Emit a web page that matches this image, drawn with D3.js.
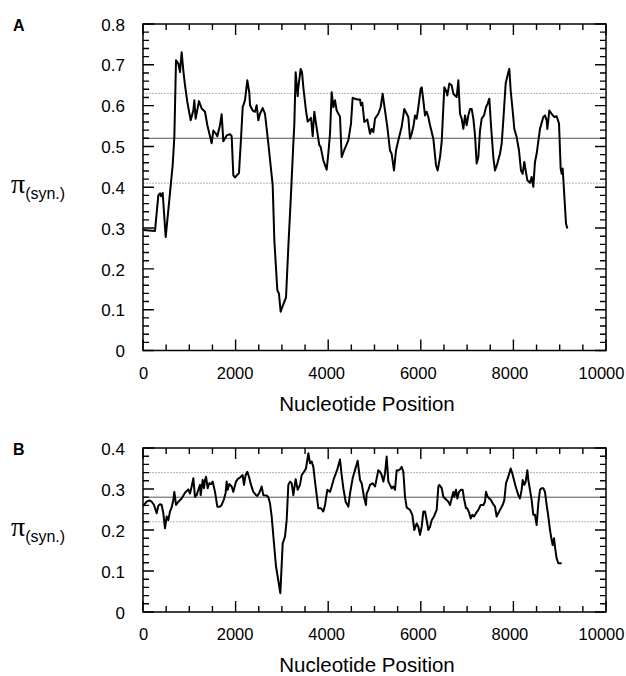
<!DOCTYPE html>
<html>
<head>
<meta charset="utf-8">
<script src="https://cdn.jsdelivr.net/npm/d3@7"></script>
<style>
  body { margin: 0; background: #fff; }
  svg text { font-family: "Liberation Sans", Arial, Helvetica, sans-serif; fill: #000; }
</style>
</head>
<body>
<svg></svg>
<script>
var width = 626,
    height = 676;

// Panel A: nucleotide position / pi(syn.)
var posA = [7,259,331,367,389,425,490,547,641,677,
  713,763,799,835,871,907,957,1030,1087,1109,
  1137,1209,1267,1339,1390,1483,1519,1577,1605,1663,
  1699,1735,1807,1879,1915,1951,1987,2073,2117,2153,
  2203,2253,2297,2311,2369,2419,2455,2491,2527,2585,
  2635,2707,2801,2837,2901,2937,2973,3017,3089,3139,
  3197,3247,3269,3297,3341,3355,3405,3434,3463,3520,
  3557,3628,3665,3700,3737,3808,3837,3895,3967,4003,
  4039,4075,4111,4147,4183,4255,4291,4341,4435,4492,
  4528,4629,4687,4708,4737,4780,4845,4903,
  4939,4975,5011,5083,5133,5176,5227,5277,5335,5371,
  5421,5464,5515,5587,5644,5695,5731,5767,5803,5839,
  5875,5911,5947,5997,6019,6055,6091,6127,6163,6199,
  6271,6328,6364,6415,6451,6487,6508,6544,6573,6616,
  6667,6703,6739,6775,6811,6847,6883,6919,6955,6991,
  7026,7062,7099,7135,7171,7207,7243,7279,7315,7365,
  7408,7444,7480,7516,7566,7603,7653,7710,7747,7782,
  7833,7890,7912,7941,7984,8020,8070,8121,8164,8200,
  8236,8265,8301,8358,8394,8430,8466,8502,8574,8646,
  8682,8718,8733,8776,8826,8884,8934,8985,9021,9042,
  9064,9093,9136,9165];
var piA = [0.295,0.293,0.380,0.385,0.378,0.386,0.278,0.344,0.454,0.523,
  0.711,0.703,0.682,0.731,0.686,0.650,0.609,0.564,0.588,0.613,
  0.568,0.611,0.593,0.585,0.552,0.508,0.539,0.531,0.525,0.552,
  0.579,0.513,0.527,0.530,0.525,0.429,0.424,0.435,0.519,0.596,
  0.613,0.662,0.631,0.601,0.588,0.585,0.601,0.564,0.580,0.594,
  0.580,0.507,0.405,0.270,0.148,0.139,0.095,0.109,0.130,0.254,
  0.385,0.507,0.556,0.682,0.623,0.645,0.690,0.682,0.645,0.588,
  0.561,0.570,0.525,0.585,0.556,0.503,0.499,0.466,0.443,0.483,
  0.531,0.633,0.596,0.613,0.588,0.573,0.474,0.490,0.515,0.556,
  0.619,0.615,0.615,0.601,0.607,0.560,0.566,0.531,
  0.543,0.535,0.568,0.580,0.596,0.629,0.588,0.548,0.490,0.482,
  0.441,0.490,0.515,0.548,0.592,0.580,0.572,0.519,0.531,0.548,
  0.576,0.568,0.596,0.641,0.645,0.613,0.576,0.585,0.572,0.552,
  0.519,0.454,0.441,0.474,0.511,0.596,0.645,0.637,0.625,0.654,
  0.650,0.629,0.625,0.621,0.662,0.580,0.568,0.543,0.576,0.552,
  0.576,0.592,0.592,0.568,0.527,0.458,0.474,0.539,0.568,0.576,
  0.596,0.605,0.617,0.552,0.474,0.441,0.458,0.482,0.507,0.564,
  0.654,0.682,0.690,0.637,0.588,0.543,0.523,0.490,0.441,0.433,
  0.462,0.441,0.417,0.411,0.425,0.401,0.462,0.482,0.543,0.572,
  0.576,0.564,0.543,0.588,0.580,0.572,0.574,0.556,0.446,0.433,
  0.446,0.392,0.311,0.299];
// mean and +/- 1 sd
var refA = [0.52, 0.63, 0.41];

// Panel B
var posB = [7,79,137,187,238,295,331,367,403,439,
  475,511,547,583,619,655,677,713,763,835,
  907,979,1015,1051,1087,1123,1159,1195,1231,1246,
  1289,1317,1339,1361,1397,1433,1469,1505,1555,1605,
  1663,1699,1749,1785,1807,1829,1865,1915,1951,2009,
  2045,2095,2153,2181,2217,2253,2289,2333,2383,2441,
  2469,2513,2563,2599,2671,2707,2743,2779,2829,2873,
  2909,2966,3017,3067,3103,3139,3175,3211,3247,3297,
  3341,3391,3427,3477,3520,3571,3607,3643,3679,3715,
  3787,3844,3895,3931,3981,4039,4075,4125,4197,4255,
  4291,4327,4377,4435,4471,4528,4579,4636,4687,4723,
  4773,4816,
  4831,4867,4903,4960,5011,5047,5083,5119,5155,5191,
  5227,5263,5299,5335,5371,5407,5443,5479,5515,5551,
  5587,5623,5659,5695,5767,5817,5860,5911,5947,5983,
  6019,6055,6091,6127,6163,6199,6235,6285,6343,6379,
  6400,6451,6487,6523,6559,6595,6631,6667,6703,6724,
  6760,6789,6825,6868,6904,6933,6976,7005,7048,7077,
  7113,7149,7192,7243,7293,7351,7387,7408,7444,7480,
  7516,7552,7603,7638,7674,7710,7768,7804,7840,7890,
  7941,7977,8013,8049,8106,8142,8178,8200,8236,8265,
  8301,8322,8358,8394,8430,8466,8502,8538,8574,8610,
  8646,8682,8718,8754,8790,8826,8848,8876,8898,8934,
  8970,9042];
var piB = [0.259,0.269,0.272,0.269,0.261,0.241,0.259,0.263,0.261,0.241,
  0.204,0.233,0.224,0.245,0.255,0.273,0.293,0.261,0.269,0.277,
  0.291,0.299,0.289,0.306,0.326,0.281,0.285,0.298,0.310,0.285,
  0.322,0.302,0.322,0.330,0.302,0.314,0.312,0.318,0.293,0.257,
  0.257,0.261,0.275,0.291,0.318,0.298,0.312,0.306,0.293,0.318,
  0.324,0.328,0.334,0.310,0.334,0.342,0.330,0.310,0.293,0.285,
  0.283,0.291,0.306,0.285,0.284,0.280,0.265,0.233,0.167,0.111,
  0.086,0.046,0.167,0.184,0.224,0.310,0.318,0.314,0.285,0.324,
  0.298,0.310,0.334,0.342,0.350,0.387,0.363,0.367,0.354,0.318,
  0.253,0.253,0.245,0.261,0.298,0.293,0.306,0.326,0.348,0.372,
  0.334,0.302,0.269,0.257,0.289,0.326,0.346,0.369,0.322,0.314,
  0.280,0.261,
  0.289,0.298,0.310,0.314,0.306,0.326,0.346,0.342,0.334,0.318,
  0.338,0.379,0.318,0.310,0.302,0.306,0.298,0.346,0.345,0.348,
  0.354,0.342,0.281,0.255,0.249,0.237,0.200,0.216,0.208,0.188,
  0.208,0.245,0.245,0.224,0.200,0.208,0.224,0.233,0.249,0.306,
  0.310,0.302,0.281,0.277,0.273,0.269,0.261,0.277,0.293,0.281,
  0.298,0.277,0.293,0.298,0.298,0.277,0.253,0.253,0.241,0.228,
  0.237,0.233,0.241,0.249,0.261,0.261,0.269,0.293,0.281,0.277,
  0.273,0.265,0.257,0.233,0.241,0.249,0.261,0.273,0.314,0.330,
  0.350,0.338,0.322,0.306,0.285,0.277,0.298,0.322,0.310,0.318,
  0.346,0.322,0.298,0.273,0.237,0.237,0.212,0.265,0.298,0.302,
  0.302,0.293,0.261,0.233,0.200,0.176,0.163,0.180,0.159,0.131,
  0.119,0.119];
var refB = [0.28, 0.34, 0.22];

var xMajor = [0, 2000, 4000, 6000, 8000, 10000];

var svg = d3.select("svg")
    .attr("width", width)
    .attr("height", height);

var left = 143, right = 606;

var panels = [
  {letter: "A", pos: posA, pi: piA, ref: refA, yMax: 0.8, top: 24, bottom: 350.5, labelAt: 0.4},
  {letter: "B", pos: posB, pi: piB, ref: refB, yMax: 0.4, top: 448, bottom: 612, labelAt: 0.2}
];

panels.forEach(function(p){ drawPanel(p); });

function drawPanel(p) {
  var x = d3.scaleLinear().domain([0, 10000]).range([left, right]);
  var y = d3.scaleLinear().domain([0, p.yMax]).range([p.bottom, p.top]);
  var g = svg.append("g");

  var xMinor = d3.range(500, 10000, 500).filter(function(d){ return d % 2000 != 0; });
  var yMajor = d3.range(0, Math.round(p.yMax * 10) + 1).map(function(i){ return i / 10; });
  var yMinor = d3.range(0, Math.round(p.yMax * 50) + 1)
    .filter(function(i){ return i % 5 != 0; })
    .map(function(i){ return i / 50; });

  // reference lines (mean, +/- sd)
  g.selectAll(".ref")
      .data(p.ref)
    .enter().append("line")
      .attr("x1", left).attr("x2", right)
      .attr("y1", function(d){ return y(d); })
      .attr("y2", function(d){ return y(d); })
      .attr("stroke", function(d, i){ return i == 0 ? "#555" : "#b4b4b4"; })
      .attr("stroke-width", 1)
      .attr("stroke-dasharray", function(d, i){ return i == 0 ? null : "2,1"; });

  // tick labels
  var xAx = g.append("g")
    .attr("transform", "translate(0," + p.bottom + ")")
    .call(d3.axisBottom(x).tickValues(xMajor).tickSize(0).tickPadding(0).tickFormat(d3.format("d")));
  xAx.select(".domain").remove();
  xAx.selectAll("text")
    .attr("y", 28).attr("dy", null)
    .attr("dx", function(d){ return -d / 2000; })
    .style("font-size", "16.5px");

  var yAx = g.append("g")
    .attr("transform", "translate(" + left + ",0)")
    .call(d3.axisLeft(y).tickValues(yMajor).tickSize(0)
      .tickFormat(function(d){ return d == 0 ? "0" : d3.format(".1f")(d); }));
  yAx.select(".domain").remove();
  yAx.selectAll("text")
    .attr("x", -18).attr("dy", "0.36em")
    .style("font-size", "17px");

  // the sliding window curve
  var curve = d3.line()
    .x(function(d){ return x(d[0]); })
    .y(function(d){ return y(d[1]); });

  g.append("path")
    .datum(d3.zip(p.pos, p.pi))
    .attr("d", curve)
    .attr("fill", "none")
    .attr("stroke", "#000")
    .attr("stroke-width", 2)
    .attr("stroke-linejoin", "round");

  // x axis title
  g.append("text")
    .attr("x", 367)
    .attr("y", p.bottom + 60)
    .attr("text-anchor", "middle")
    .style("font-size", "20.5px")
    .text("Nucleotide Position");

  // panel letter
  g.append("text")
    .attr("x", 13)
    .attr("y", p.top + 7)
    .style("font-size", "16px")
    .style("font-weight", "bold")
    .text(p.letter);

  // y axis label pi(syn.)
  var lab = g.append("text")
    .attr("x", 11)
    .attr("y", y(p.labelAt) + 6);
  lab.append("tspan")
    .style("font-family", "'Liberation Serif', 'Times New Roman', serif")
    .style("font-size", "28px")
    .text("π");
  lab.append("tspan")
    .attr("dy", 6)
    .style("font-size", "16px")
    .text("(syn.)");

  // frame
  g.append("rect")
    .attr("x", left).attr("y", p.top)
    .attr("width", right - left).attr("height", p.bottom - p.top)
    .attr("fill", "none")
    .attr("stroke", "#000")
    .attr("stroke-width", 1.5);

  // inward ticks on all four sides, one path per tick set
  function xTickPath(vals, len) {
    return vals.map(function(d){
      var px = x(d);
      return "M" + px + "," + p.bottom + "V" + (p.bottom - len) +
             "M" + px + "," + p.top + "V" + (p.top + len);
    }).join("");
  }
  function yTickPath(vals, len) {
    return vals.map(function(d){
      var py = y(d);
      return "M" + left + "," + py + "H" + (left + len) +
             "M" + right + "," + py + "H" + (right - len);
    }).join("");
  }
  [xTickPath(xMajor, 11), xTickPath(xMinor, 6), yTickPath(yMajor, 11), yTickPath(yMinor, 6)]
    .forEach(function(dStr){
      g.append("path")
        .attr("d", dStr)
        .attr("fill", "none")
        .attr("stroke", "#000")
        .attr("stroke-width", 1.4);
    });
}
</script>
</body>
</html>
